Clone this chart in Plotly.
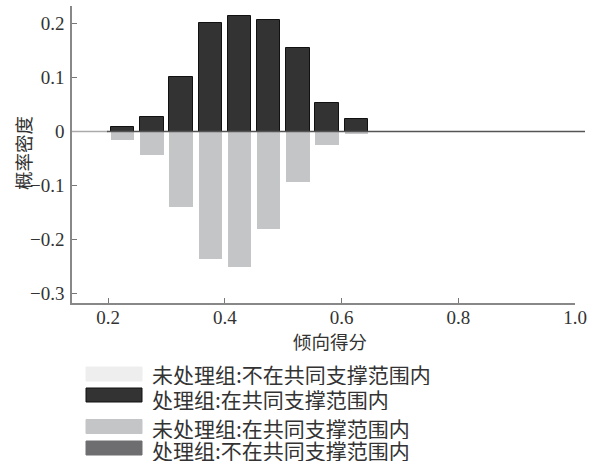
import plotly.graph_objects as go

# ---- data ----
bin_centers = [0.225, 0.275, 0.325, 0.375, 0.425, 0.475, 0.525, 0.575, 0.625]
treated_on = [0.008, 0.027, 0.101, 0.200, 0.214, 0.206, 0.155, 0.052, 0.024]
untreated_on = [-0.015, -0.044, -0.140, -0.235, -0.251, -0.181, -0.093, -0.025, -0.005]
x_ticks = [0.2, 0.4, 0.6, 0.8, 1.0]
x_tick_text = ["0.2", "0.4", "0.6", "0.8", "1.0"]
y_ticks = [-0.3, -0.2, -0.1, 0, 0.1, 0.2]
y_tick_text = ["\u22120.3", "\u22120.2", "\u22120.1", "0", "0.1", "0.2"]
legend_labels = ["未处理组:不在共同支撑范围内", "处理组:在共同支撑范围内",
                 "未处理组:在共同支撑范围内", "处理组:不在共同支撑范围内"]
legend_colors = ["#eeeeee", "#333333", "#c4c5c7", "#6e6e70"]
legend_lines = ["#eeeeee", "#111111", "#c4c5c7", "#6e6e70"]

W, H = 599, 462
L, R, T, B = 72, 575, 6, 303
SERIF = "Times New Roman"
CJK = "Noto Sans CJK SC"

def px(x):
    return (x - L) / (R - L)

def py(y):
    return (B - y) / (B - T)

fig = go.Figure()
fig.add_trace(go.Bar(x=bin_centers, y=untreated_on, width=0.04,
                     marker=dict(color="#c4c5c7", line=dict(width=0)),
                     name=legend_labels[2], showlegend=False, hoverinfo="skip"))
fig.add_trace(go.Bar(x=bin_centers, y=treated_on, width=0.04,
                     marker=dict(color="#333333", line=dict(color="#111111", width=1)),
                     name=legend_labels[1], showlegend=False, hoverinfo="skip"))

shapes = []
# zero line
shapes.append(dict(type="line", xref="x", yref="y", x0=0.138, x1=0.2, y0=0, y1=0,
                   line=dict(color="#aaaaaa", width=1.5)))
shapes.append(dict(type="line", xref="paper", yref="y", x0=px(107), x1=px(585), y0=0, y1=0,
                   line=dict(color="#555555", width=1.3)))

annotations = []
sw_centers = [374, 395, 426.5, 448]
tx_centers = [373.7, 398.5, 427.5, 450]
for i in range(4):
    shapes.append(dict(type="rect", xref="paper", yref="paper",
                       x0=px(86), x1=px(142), y0=py(sw_centers[i] + 7), y1=py(sw_centers[i] - 7),
                       fillcolor=legend_colors[i], line=dict(color=legend_lines[i], width=1)))
    annotations.append(dict(xref="paper", yref="paper", x=px(150), y=py(tx_centers[i]),
                            xanchor="left", yanchor="middle", showarrow=False,
                            text=legend_labels[i], height=22,
                            font=dict(family=CJK, size=21, color="#333333")))

annotations.append(dict(xref="paper", yref="paper", x=px(23), y=py(153), text="概率密度",
                        textangle=-90, showarrow=False, xanchor="center", yanchor="middle",
                        font=dict(family=CJK, size=18.5, color="#333333")))
annotations.append(dict(xref="paper", yref="paper", x=px(330), y=py(341), text="倾向得分",
                        showarrow=False, xanchor="center", yanchor="middle", height=22,
                        font=dict(family=CJK, size=18.5, color="#333333")))

fig.update_layout(
    width=W, height=H,
    margin=dict(l=L, r=W - R, t=T, b=H - B, pad=0),
    plot_bgcolor="white", paper_bgcolor="white",
    barmode="overlay", bargap=0,
    showlegend=False, hovermode=False,
    shapes=shapes, annotations=annotations,
    font=dict(family=SERIF, size=19, color="#333333"),
)
fig.update_xaxes(range=[0.138, 1.0], tickvals=x_ticks, ticktext=x_tick_text,
                 ticks="inside", ticklen=5, tickcolor="#777777", showgrid=False,
                 zeroline=False, showline=True, linecolor="#888888", linewidth=1.5,
                 automargin=False, ticklabelstandoff=-4,
                 tickfont=dict(family=SERIF, size=19, color="#333333"))
fig.update_yaxes(range=[-0.317, 0.232], tickvals=y_ticks, ticktext=y_tick_text,
                 ticks="inside", ticklen=5, tickcolor="#777777", showgrid=False,
                 zeroline=False, showline=True, linecolor="#888888", linewidth=1.5,
                 automargin=False, ticklabelstandoff=2,
                 tickfont=dict(family=SERIF, size=19, color="#333333"))

fig.write_html("out.html", config={"displayModeBar": False},
               post_script="document.body.style.margin='0px';")
